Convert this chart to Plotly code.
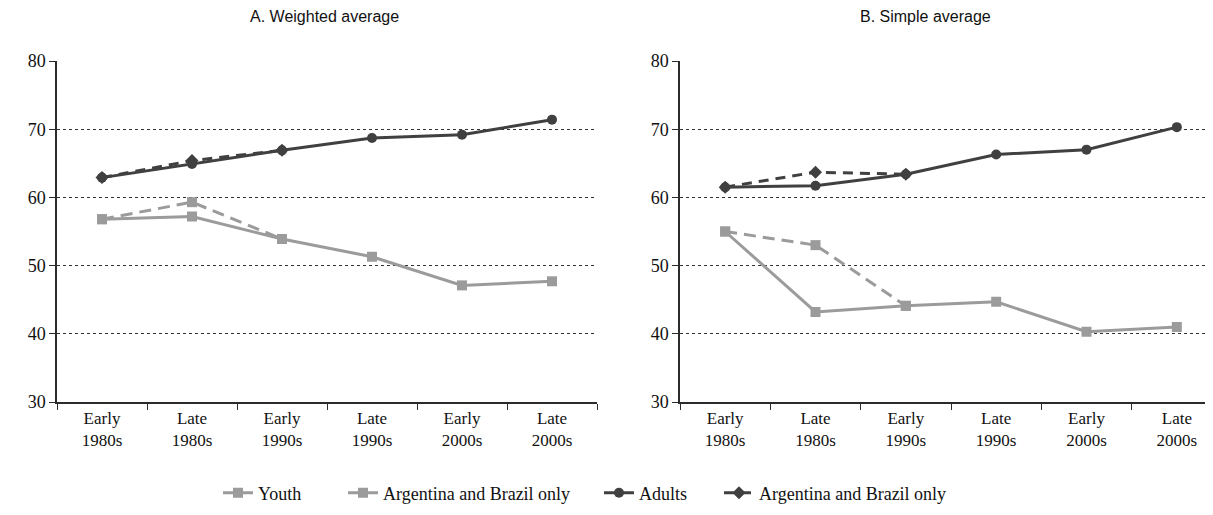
import plotly.graph_objects as go

categories = ["Early<br>1980s", "Late<br>1980s", "Early<br>1990s", "Late<br>1990s", "Early<br>2000s", "Late<br>2000s"]

# Panel A: weighted average
a_youth = [56.8, 57.2, 53.9, 51.3, 47.1, 47.7]
a_youth_ab = [56.8, 59.3, 53.9, None, None, None]
a_adults = [62.9, 64.9, 66.9, 68.7, 69.2, 71.4]
a_adults_ab = [62.9, 65.4, 66.9, None, None, None]

# Panel B: simple average
b_youth = [55.0, 43.2, 44.1, 44.7, 40.3, 41.0]
b_youth_ab = [55.0, 53.0, 44.1, None, None, None]
b_adults = [61.5, 61.7, 63.4, 66.3, 67.0, 70.3]
b_adults_ab = [61.5, 63.7, 63.4, None, None, None]

y_ticks = [30, 40, 50, 60, 70, 80]
titles = ["A. Weighted average", "B. Simple average"]
legend_names = ["Youth", "Argentina and Brazil only", "Adults", "Argentina and Brazil only"]

W, H = 1213, 515
T, B = 53, 121
PH = H - T - B

LIGHT = "#9b9b9b"
DARK = "#404040"
AX = "#2b2b2b"

def px_x(p):
    return p / W

def px_y(p):
    return (H - B - p) / PH

fig = go.Figure()

styles = [
    dict(color=LIGHT, dash="solid", symbol="square"),
    dict(color=LIGHT, dash="12px,7px", symbol="square"),
    dict(color=DARK, dash="solid", symbol="circle"),
    dict(color=DARK, dash="10px,7px", symbol="diamond"),
]
legend_ids = ["legend", "legend2", "legend3", "legend4"]

panels = [
    ([a_youth, a_youth_ab, a_adults, a_adults_ab], "x", "y"),
    ([b_youth, b_youth_ab, b_adults, b_adults_ab], "x2", "y2"),
]
order = [1, 0, 3, 2]
for pi, (series, xa, ya) in enumerate(panels):
    for i in order:
        st = styles[i]
        fig.add_trace(go.Scatter(
            x=categories, y=series[i], xaxis=xa, yaxis=ya,
            mode="lines+markers", name=legend_names[i],
            line=dict(color=st["color"], width=3, dash=st["dash"]),
            marker=dict(symbol=st["symbol"], size=10, color=st["color"]),
            showlegend=(pi == 0), legend=legend_ids[i],
            connectgaps=False,
        ))

x_font = dict(family="Liberation Serif", size=17, color="#111")
y_font = dict(family="Liberation Serif", size=18, color="#111")
common_x = dict(type="category", tickson="boundaries", ticks="outside", ticklen=6,
                tickcolor=AX, showline=True, linecolor=AX, linewidth=1.5,
                showgrid=False, tickfont=x_font, fixedrange=True)
common_y = dict(range=[30, 80], tickvals=y_ticks, ticks="outside", ticklen=6,
                tickcolor=AX, showline=True, linecolor=AX, linewidth=1.5,
                showgrid=True, gridcolor="#333", griddash="dot", gridwidth=1,
                tickfont=y_font, zeroline=False)

fig.update_layout(
    width=W, height=H,
    margin=dict(l=0, r=0, t=T, b=B),
    paper_bgcolor="white", plot_bgcolor="white",
    xaxis=dict(domain=[px_x(49), px_x(589)], range=[-0.5, 5.5], anchor="y", **common_x),
    yaxis=dict(domain=[0, 1], anchor="x", **common_y),
    xaxis2=dict(domain=[px_x(672), 1], range=[-0.5, 5.5 - 1 / 90], anchor="y2", **common_x),
    yaxis2=dict(domain=[0, 1], anchor="x2", **common_y),
)

legend_x = [210, 335, 591, 711]
leg_common = dict(orientation="h", xanchor="left", yanchor="middle", y=px_y(485),
                  font=dict(family="Liberation Serif", size=18, color="#111"),
                  bgcolor="rgba(0,0,0,0)", borderwidth=0, itemwidth=30)
fig.update_layout(
    legend=dict(x=px_x(legend_x[0]), **leg_common),
    legend2=dict(x=px_x(legend_x[1]), **leg_common),
    legend3=dict(x=px_x(legend_x[2]), **leg_common),
    legend4=dict(x=px_x(legend_x[3]), **leg_common),
)

for t, cx in zip(titles, [px_x(316), px_x(917)]):
    fig.add_annotation(text=t, x=cx, y=px_y(9), xref="paper", yref="paper",
                       showarrow=False, xanchor="center", yanchor="middle",
                       font=dict(family="Liberation Sans", size=16, color="#111"))

fig.write_html("out.html")
